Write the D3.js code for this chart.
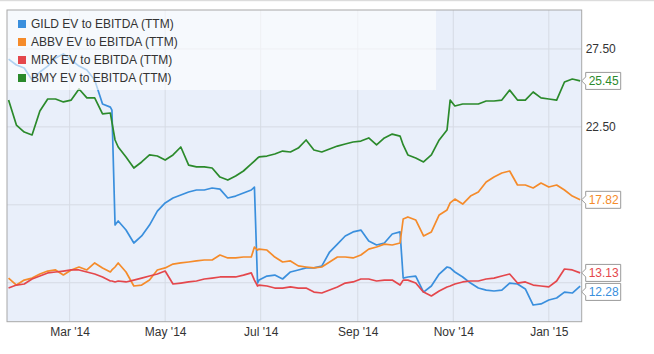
<!DOCTYPE html>
<html>
<head>
<meta charset="utf-8">
<script src="https://cdn.jsdelivr.net/npm/d3@7"></script>
<style>
  body { margin: 0; background: #fff; }
  text { font-family: "Liberation Sans", Arial, sans-serif; }
</style>
</head>
<body>
<div id="chart"></div>
<script>
// Dates shared by all four series
const dates = [
  "2014-01-21", "2014-01-26", "2014-01-31", "2014-02-05", "2014-02-10", "2014-02-15",
  "2014-02-20", "2014-02-25", "2014-03-02", "2014-03-07", "2014-03-12", "2014-03-17",
  "2014-03-22", "2014-03-27", "2014-03-28", "2014-03-30", "2014-04-01", "2014-04-06",
  "2014-04-11", "2014-04-16", "2014-04-21", "2014-04-26", "2014-05-01", "2014-05-06",
  "2014-05-11", "2014-05-16", "2014-05-21", "2014-05-26", "2014-05-31", "2014-06-05",
  "2014-06-10", "2014-06-15", "2014-06-20", "2014-06-25", "2014-06-27", "2014-06-29",
  "2014-06-30", "2014-07-05", "2014-07-10", "2014-07-15", "2014-07-20", "2014-07-25",
  "2014-07-30", "2014-08-04", "2014-08-09", "2014-08-14", "2014-08-19", "2014-08-24",
  "2014-08-29", "2014-09-03", "2014-09-08", "2014-09-13", "2014-09-18", "2014-09-23",
  "2014-09-28", "2014-09-30", "2014-10-03", "2014-10-08", "2014-10-13", "2014-10-18",
  "2014-10-23", "2014-10-28", "2014-10-30", "2014-11-02", "2014-11-07", "2014-11-12",
  "2014-11-17", "2014-11-22", "2014-11-27", "2014-12-02", "2014-12-07", "2014-12-12",
  "2014-12-17", "2014-12-22", "2014-12-27", "2015-01-01", "2015-01-06", "2015-01-11",
  "2015-01-16", "2015-01-21"
];

const gild = [
  26.85, 26.47, 26.28, 25.51, 26.02, 26.40, 26.92, 27.18, 26.79, 26.40, 26.15, 25.51,
  23.97, 23.77, 23.58, 16.20, 16.46, 15.88, 15.05, 15.50, 16.20, 17.10, 17.62, 17.94,
  18.13, 18.32, 18.45, 18.45, 18.58, 18.51, 17.94, 18.06, 18.26, 18.45, 18.64, 12.48,
  12.67, 12.93, 12.99, 12.74, 13.19, 13.32, 13.45, 13.45, 13.57, 14.47, 14.98, 15.50,
  15.76, 15.88, 15.18, 14.92, 15.05, 15.63, 15.76, 12.80, 12.87, 12.93, 11.90, 12.29,
  13.06, 13.51, 13.45, 13.19, 12.87, 12.48, 12.16, 12.03, 11.97, 12.03, 12.48, 12.42,
  12.10, 11.07, 11.14, 11.39, 11.52, 11.90, 11.84, 12.28
];

const abbv = [
  12.80, 12.35, 12.67, 12.80, 13.06, 13.25, 13.32, 13.00, 13.32, 13.51, 13.32, 13.77,
  13.45, 13.19, 13.32, 13.51, 13.77, 13.19, 12.29, 12.35, 12.67, 13.32, 13.45, 13.70,
  13.77, 13.83, 13.90, 13.96, 13.96, 14.28, 14.09, 14.09, 14.15, 14.15, 14.79, 14.60,
  14.66, 14.60, 14.15, 13.83, 13.90, 13.58, 13.51, 13.45, 13.51, 13.83, 14.15, 14.15,
  14.09, 14.28, 14.66, 14.79, 14.98, 14.92, 15.05, 16.59, 16.72, 16.53, 15.50, 15.76,
  16.85, 17.17, 17.62, 17.87, 17.55, 18.06, 18.32, 18.96, 19.28, 19.54, 19.67, 18.77,
  18.77, 18.58, 18.90, 18.64, 18.77, 18.45, 18.06, 17.82
];

const mrk = [
  12.16, 12.35, 12.42, 12.74, 12.93, 13.13, 13.19, 13.25, 13.32, 13.32, 13.19, 13.06,
  12.87, 12.61, 12.61, 12.55, 12.61, 12.55, 12.67, 12.80, 12.93, 13.06, 13.25, 12.42,
  12.48, 12.55, 12.61, 12.74, 12.80, 12.87, 12.87, 12.87, 12.99, 13.13, 12.67, 12.29,
  12.35, 12.29, 12.16, 12.16, 12.23, 12.16, 12.16, 11.90, 11.84, 12.03, 12.23, 12.48,
  12.55, 12.74, 12.74, 12.61, 12.67, 12.67, 12.35, 12.67, 12.67, 12.48, 11.90, 11.65,
  11.97, 12.23, 12.29, 12.42, 12.55, 12.61, 12.61, 12.74, 12.80, 12.93, 13.06, 12.48,
  12.55, 12.35, 12.29, 12.23, 12.61, 13.38, 13.32, 13.13
];

const bmy = [
  24.22, 22.62, 22.17, 21.98, 23.52, 24.29, 24.29, 24.10, 24.22, 24.93, 24.36, 24.36,
  23.33, 23.39, 22.81, 21.66, 21.21, 20.57, 19.86, 20.25, 20.70, 20.63, 20.37, 20.70,
  21.21, 20.05, 19.93, 19.93, 19.86, 19.28, 19.09, 19.35, 19.67, 20.12, 20.31, 20.50,
  20.57, 20.63, 20.76, 20.95, 20.89, 21.14, 21.66, 21.02, 20.89, 21.08, 21.27, 21.40,
  21.53, 21.59, 21.79, 21.34, 21.79, 22.04, 21.91, 21.34, 20.70, 20.50, 20.25, 20.70,
  21.66, 22.30, 24.22, 23.84, 23.97, 23.97, 23.97, 24.16, 24.16, 24.22, 24.86, 24.22,
  24.22, 24.74, 24.36, 24.29, 24.22, 25.38, 25.57, 25.45
];

const seriesNames = ["GILD EV to EBITDA (TTM)", "ABBV EV to EBITDA (TTM)",
                     "MRK EV to EBITDA (TTM)", "BMY EV to EBITDA (TTM)"];
const seriesColors = ["#3a8fdd", "#f58b2a", "#e4474c", "#2b8a2b"];
const seriesValues = [gild, abbv, mrk, bmy];

const xTicks = ["2014-03-01", "2014-05-01", "2014-07-01", "2014-09-01", "2014-11-01", "2015-01-01"];
const yTicks = [12.5, 17.5, 22.5, 27.5];

const width = 654;
const height = 354;
const margin = { top: 10, right: 72.3, bottom: 32.3, left: 7 };

const parse = d3.timeParse("%Y-%m-%d");

const svg = d3.select("#chart")
  .append("svg")
  .attr("width", width)
  .attr("height", height);

// thin grey line along the very top
svg.append("rect")
  .attr("x", 0).attr("y", 0)
  .attr("width", width).attr("height", 1.2)
  .attr("fill", "#dcdcdc");

const x = d3.scaleTime()
  .domain([parse("2014-01-20"), parse("2015-01-22")])
  .range([margin.left, width - margin.right]);

const y = d3.scaleLinear()
  .domain([10, 30])
  .range([height - margin.bottom, margin.top]);

// plot background
svg.append("rect")
  .attr("x", x.range()[0])
  .attr("y", y.range()[1])
  .attr("width", x.range()[1] - x.range()[0])
  .attr("height", y.range()[0] - y.range()[1])
  .attr("fill", "#e9effa");

// grid lines
svg.append("g")
  .selectAll("line.h")
  .data(yTicks)
  .join("line")
  .attr("x1", x.range()[0])
  .attr("x2", x.range()[1])
  .attr("y1", d => y(d))
  .attr("y2", d => y(d))
  .attr("stroke", "#d6dbe4")
  .attr("stroke-width", 1);

svg.append("g")
  .selectAll("line.v")
  .data(xTicks)
  .join("line")
  .attr("x1", d => x(parse(d)))
  .attr("x2", d => x(parse(d)))
  .attr("y1", y.range()[1])
  .attr("y2", y.range()[0])
  .attr("stroke", "#d6dbe4")
  .attr("stroke-width", 1);

// lines
const line = d3.line()
  .x((d, i) => x(parse(dates[i])))
  .y(d => y(d));

seriesValues.forEach((vals, i) => {
  svg.append("path")
    .datum(vals)
    .attr("fill", "none")
    .attr("stroke", seriesColors[i])
    .attr("stroke-width", 1.7)
    .attr("stroke-linejoin", "round")
    .attr("d", line);
});

// legend
const legend = svg.append("g");
legend.append("rect")
  .attr("x", margin.left)
  .attr("y", margin.top)
  .attr("width", 429)
  .attr("height", 80)
  .attr("fill", "#ffffff")
  .attr("opacity", 0.6);

seriesNames.forEach((name, i) => {
  const cy = 24 + i * 18;
  legend.append("rect")
    .attr("x", 18).attr("y", cy - 4)
    .attr("width", 8).attr("height", 8)
    .attr("fill", seriesColors[i]);
  legend.append("text")
    .attr("x", 31).attr("y", cy)
    .attr("dy", "0.35em")
    .attr("font-size", 12)
    .attr("fill", "#333")
    .text(name);
});

// plot border
svg.append("rect")
  .attr("x", x.range()[0])
  .attr("y", y.range()[1])
  .attr("width", x.range()[1] - x.range()[0])
  .attr("height", y.range()[0] - y.range()[1])
  .attr("fill", "none")
  .attr("stroke", "#a8a8a8");

// bottom axis
const xAxis = d3.axisBottom(x)
  .tickValues(xTicks.map(parse))
  .tickFormat(d3.timeFormat("%b '%y"))
  .tickSize(0)
  .tickPadding(6);

const xg = svg.append("g")
  .attr("transform", `translate(0, ${y.range()[0]})`)
  .call(xAxis);
xg.select(".domain").remove();
xg.selectAll("text")
  .attr("font-size", 12)
  .attr("font-family", "Liberation Sans, Arial, sans-serif")
  .attr("fill", "#333");

// value flags on the right
const flagH = 17;
const flagGap = 19;
const flags = seriesValues.map((vals, i) => ({
  value: vals[vals.length - 1],
  color: seriesColors[i],
  y: y(vals[vals.length - 1])
})).sort((a, b) => a.y - b.y);
for (let i = 1; i < flags.length; i++) {
  if (flags[i].y - flags[i - 1].y < flagGap) flags[i].y = flags[i - 1].y + flagGap;
}

// right axis labels, skipped where a flag sits
const xr = x.range()[1];
const yLabels = yTicks.filter(t => flags.every(f => Math.abs(f.y - y(t)) > 14));
const yAxis = d3.axisRight(y)
  .tickValues(yLabels)
  .tickFormat(d3.format(".2f"))
  .tickSize(0)
  .tickPadding(4);
const yg = svg.append("g")
  .attr("transform", `translate(${xr}, 0)`)
  .call(yAxis);
yg.select(".domain").remove();
yg.selectAll("text")
  .attr("font-size", 12)
  .attr("font-family", "Liberation Sans, Arial, sans-serif")
  .attr("fill", "#333");

const fg = svg.append("g");
flags.forEach(f => {
  const bx = xr + 4;
  const bw = 35;
  const top = f.y - flagH / 2;
  fg.append("path")
    .attr("d", `M${xr},${f.y} L${bx},${f.y - 4} L${bx},${top} L${bx + bw},${top} ` +
               `L${bx + bw},${top + flagH} L${bx},${top + flagH} L${bx},${f.y + 4} Z`)
    .attr("fill", "#fff")
    .attr("stroke", "#9a9a9a")
    .attr("stroke-width", 1);
  fg.append("text")
    .attr("x", bx + 3)
    .attr("y", f.y)
    .attr("dy", "0.35em")
    .attr("font-size", 12)
    .attr("fill", f.color)
    .text(d3.format(".2f")(f.value));
});
</script>
</body>
</html>
